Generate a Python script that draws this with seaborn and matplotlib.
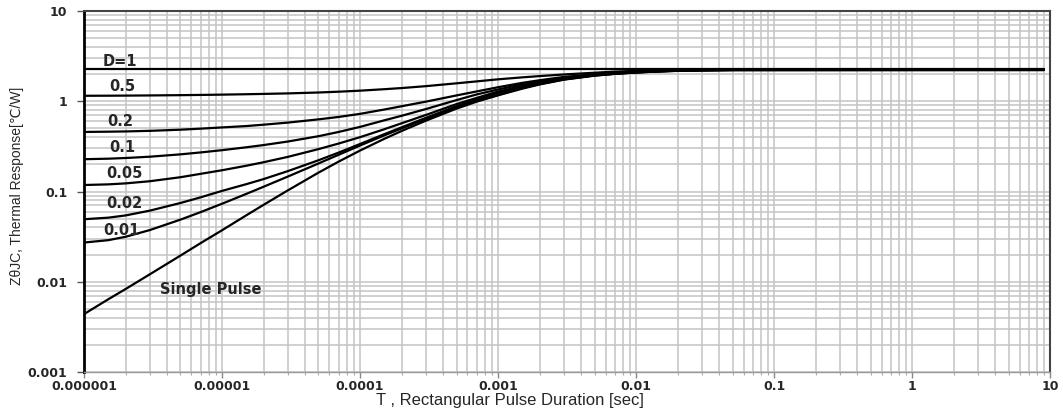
import numpy as np
import pandas as pd
import matplotlib
matplotlib.use("Agg")
import matplotlib.pyplot as plt
from matplotlib import font_manager
from matplotlib.ticker import FixedLocator, NullFormatter, LogLocator
import seaborn as sns

t = [1e-6, 1.5e-6, 2e-6, 3e-6, 5e-6, 7e-6,
     1e-5, 1.5e-5, 2e-5, 3e-5, 5e-5, 7e-5,
     1e-4, 1.5e-4, 2e-4, 3e-4, 5e-4, 7e-4,
     1e-3, 1.5e-3, 2e-3, 3e-3, 5e-3, 7e-3,
     1e-2, 1.5e-2, 2e-2, 3e-2, 5e-2, 9]

# Z(theta)JC thermal response [C/W] per duty cycle
z_d1 = [2.25] * len(t)
z_05 = [1.150, 1.152, 1.155, 1.160, 1.168, 1.175,
        1.184, 1.196, 1.206, 1.222, 1.250, 1.276,
        1.31, 1.36, 1.40, 1.47, 1.58, 1.66,
        1.75, 1.84, 1.90, 1.98, 2.07, 2.13,
        2.17, 2.20, 2.215, 2.23, 2.24, 2.245]
z_02 = [0.457, 0.460, 0.463, 0.470, 0.484, 0.497,
        0.513, 0.531, 0.550, 0.580, 0.630, 0.670,
        0.725, 0.81, 0.88, 0.99, 1.16, 1.285,
        1.43, 1.60, 1.71, 1.86, 2.00, 2.08,
        2.13, 2.18, 2.20, 2.22, 2.235, 2.24]
z_01 = [0.228, 0.231, 0.235, 0.243, 0.258, 0.271,
        0.287, 0.309, 0.327, 0.358, 0.410, 0.457,
        0.520, 0.615, 0.69, 0.82, 1.03, 1.19,
        1.35, 1.54, 1.66, 1.82, 1.97, 2.05,
        2.11, 2.16, 2.19, 2.215, 2.23, 2.235]
z_005 = [0.118, 0.120, 0.123, 0.130, 0.144, 0.157,
         0.172, 0.193, 0.211, 0.242, 0.295, 0.340,
         0.400, 0.490, 0.570, 0.705, 0.93, 1.09,
         1.28, 1.48, 1.61, 1.78, 1.95, 2.03,
         2.10, 2.155, 2.185, 2.21, 2.225, 2.23]
z_002 = [0.0493, 0.0513, 0.0543, 0.0614, 0.0746, 0.0862,
         0.1016, 0.1206, 0.1373, 0.1683, 0.222, 0.270,
         0.336, 0.432, 0.514, 0.655, 0.883, 1.05,
         1.237, 1.44, 1.58, 1.76, 1.94, 2.02,
         2.09, 2.15, 2.18, 2.205, 2.22, 2.225]
z_001 = [0.0272, 0.0289, 0.0315, 0.0374, 0.0488, 0.0591,
         0.0732, 0.0941, 0.1129, 0.1465, 0.2045, 0.2555,
         0.3233, 0.419, 0.500, 0.637, 0.849, 1.005,
         1.177, 1.40, 1.55, 1.745, 1.93, 2.015,
         2.085, 2.145, 2.175, 2.20, 2.215, 2.22]
z_single = [0.00438, 0.0064, 0.0083, 0.0121, 0.0195, 0.0268,
            0.0372, 0.0545, 0.0712, 0.103, 0.1618, 0.2145,
            0.2844, 0.3838, 0.4683, 0.6094, 0.8285, 0.99,
            1.163, 1.38, 1.535, 1.735, 1.92, 2.01,
            2.08, 2.14, 2.17, 2.195, 2.21, 2.215]

series = {"D=1": z_d1, "0.5": z_05, "0.2": z_02, "0.1": z_01, "0.05": z_005,
          "0.02": z_002, "0.01": z_001, "Single Pulse": z_single}

x_ticks = [1e-6, 1e-5, 1e-4, 1e-3, 1e-2, 1e-1, 1, 10]
x_ticklabels = ["0.000001", "0.00001", "0.0001", "0.001", "0.01", "0.1", "1", "10"]
y_ticks = [1e-3, 1e-2, 1e-1, 1, 10]
y_ticklabels = ["0.001", "0.01", "0.1", "1", "10"]

# where the curve names sit (t, z)
label_pos = {"D=1": (1.82e-6, 2.77), "0.5": (1.88e-6, 1.47), "0.2": (1.82e-6, 0.59),
             "0.1": (1.88e-6, 0.304), "0.05": (1.95e-6, 0.158), "0.02": (1.95e-6, 0.0736),
             "0.01": (1.88e-6, 0.0373), "Single Pulse": (8.3e-6, 0.00828)}

df = pd.concat([pd.DataFrame({"t": t, "z": v, "duty": k}) for k, v in series.items()],
               ignore_index=True)

sns.set_style("white")
plt.rcParams["font.family"] = ["DejaVu Sans"]

names = {f.name for f in font_manager.fontManager.ttflist}
if "Liberation Sans Narrow" in names:
    ylab_font, ylab_size = ["Liberation Sans Narrow", "DejaVu Sans"], 12
else:
    ylab_font, ylab_size = ["Liberation Sans", "DejaVu Sans"], 10

fig = plt.figure(figsize=(10.63, 4.18), dpi=100)
ax = fig.add_axes([0.079, 0.110, 0.909, 0.8637])

sns.lineplot(data=df, x="t", y="z", hue="duty", palette=["black"] * len(series),
             legend=False, estimator=None, sort=False, lw=1.6, ax=ax)

ax.set_xscale("log")
ax.set_yscale("log")
ax.set_xlim(1e-6, 10)
ax.set_ylim(1e-3, 10)

ax.xaxis.set_major_locator(FixedLocator(x_ticks))
ax.set_xticklabels(x_ticklabels, fontweight="bold", fontsize=9)
ax.yaxis.set_major_locator(FixedLocator(y_ticks))
ax.set_yticklabels(y_ticklabels, fontweight="bold", fontsize=9)
ax.xaxis.set_minor_locator(LogLocator(base=10, subs=np.arange(2, 10), numticks=20))
ax.yaxis.set_minor_locator(LogLocator(base=10, subs=np.arange(2, 10), numticks=20))
ax.xaxis.set_minor_formatter(NullFormatter())
ax.yaxis.set_minor_formatter(NullFormatter())

ax.grid(True, which="both", color="#c4c4c4", lw=1.1)
ax.set_axisbelow(True)
ax.tick_params(axis="y", which="major", length=5, width=1, color="#555555", pad=7, left=True)
ax.tick_params(axis="y", which="minor", length=0)
ax.tick_params(axis="x", which="major", length=4, width=1, color="#888888", pad=2, bottom=True)
ax.tick_params(axis="x", which="minor", length=2, width=0.8, color="#aaaaaa", bottom=True)

for side in ["top", "right"]:
    ax.spines[side].set_color("#444444")
    ax.spines[side].set_linewidth(1.5)
ax.spines["left"].set_color("black")
ax.spines["left"].set_linewidth(2)
ax.spines["bottom"].set_color("#999999")
ax.spines["bottom"].set_linewidth(1)

for name, (lx, ly) in label_pos.items():
    ax.text(lx, ly, name, ha="center", va="center", fontsize=10.5, fontweight="bold")

ax.set_xlabel("")
ax.set_ylabel("")
fig.text(0.48, 1 - 401 / 418, "T , Rectangular Pulse Duration [sec]", ha="center",
         va="center", fontsize=12, family=["Liberation Sans", "DejaVu Sans"])
fig.text(17 / 1063, 1 - 186 / 418, "Z\u03b8JC, Thermal Response[\u2103/W]", rotation=90,
         ha="center", va="center", fontsize=ylab_size, family=ylab_font)

fig.savefig("out.png", dpi=100)
